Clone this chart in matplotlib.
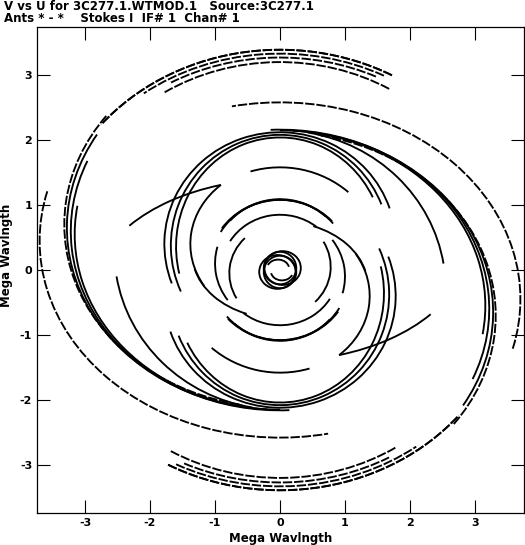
import matplotlib
matplotlib.use('Agg')
import matplotlib.pyplot as plt
from matplotlib.patches import Arc

plt.rcParams['font.family'] = ['DejaVu Sans']
plt.rcParams['font.weight'] = 'bold'
plt.rcParams['axes.unicode_minus'] = False

# uv tracks, one row per track (the conjugate half is drawn by mirroring)
# centre u, centre v, semi-axis u, semi-axis v (Mega wavelengths), start / end angle (deg)
trk_cu = [0.04, 0.0, 0.03,
          0.0, 0.0,
          0.0, 0.0, 0.0, 0.0, 0.0,
          0.0, 0.0,
          0.0, 0.0, 0.0, 0.0, 0.0,
          0.0,
          0.0, 0.0, 0.0, 0.0,
          0.0,
          0.0, 0.0, 0.0, 0.0]
trk_cv = [0.03, 0.03, -0.02,
          0.0, -0.25,
          0.1, 0.08, 0.12, 0.1, 0.05,
          0.03, -0.4,
          0.4, 0.38, 0.36, 0.4, -0.3,
          -0.65,
          -0.6, -0.55, -0.7, -0.45,
          0.24,
          0.24, 0.22, 0.2, 0.2]
trk_a = [0.28, 0.25, 0.17,
         0.9, 1.35,
         1.05, 1.08, 1.02, 1.0, 0.78,
         1.6, 2.9,
         1.78, 1.68, 1.6, 1.38, 2.55,
         3.28,
         3.22, 3.16, 3.32, 3.7,
         3.56,
         3.56, 3.52, 3.46, 3.32]
trk_b = [0.26, 0.25, 0.14,
         0.85, 1.0,
         0.98, 1.0, 0.97, 0.95, 0.75,
         1.55, 1.8,
         1.72, 1.70, 1.68, 1.21, 2.45,
         2.8,
         2.76, 2.7, 2.82, 3.03,
         3.15,
         3.15, 3.11, 3.07, 3.0]
trk_t1 = [0, 0, 190,
          50, 10,
          37, 40, 45, 165, -45,
          48, 118,
          18, 22, 28, 135, 9,
          -27,
          -20, -8, -32, -12,
          58,
          58, 60, 62, 57]
trk_t2 = [360, 360, 340,
          150, 61,
          152, 148, 140, 215, 30,
          107, 155,
          200, 205, 195, 209, 80,
          86,
          93, 90, 78, 104,
          144,
          144, 130, 122, 125]

title_1 = 'V vs U for 3C277.1.WTMOD.1   Source:3C277.1'
title_2 = 'Ants * - *    Stokes I  IF# 1  Chan# 1'

fig = plt.figure(figsize=(5.25, 5.45), dpi=100)
ax = fig.add_axes([37 / 525, 32 / 545, 487 / 525, 486 / 545])

for cu, cv, a, b, t1, t2 in zip(trk_cu, trk_cv, trk_a, trk_b, trk_t1, trk_t2):
    ls = (0, (5, 1.0)) if a > 3.3 else '-'
    for sgn in (1, -1):
        off = 0 if sgn == 1 else 180
        ax.add_patch(Arc((sgn * cu, sgn * cv), 2 * a, 2 * b, theta1=t1 + off, theta2=t2 + off,
                         color='black', lw=1.35, linestyle=ls))

ax.set_xlim(-3.74, 3.755)
ax.set_ylim(-3.74, 3.74)
ax.set_xticks([-3, -2, -1, 0, 1, 2, 3])
ax.set_yticks([-3, -2, -1, 0, 1, 2, 3])
ax.tick_params(direction='in', length=9.5, width=0.8, top=True, right=True,
               labelsize=8, pad=3.5)
for sp in ax.spines.values():
    sp.set_linewidth(0.9)
ax.set_xlabel('Mega Wavlngth', fontsize=8.5, fontweight='bold', va='top')
ax.xaxis.set_label_coords(0.5, -0.039)
ax.set_ylabel('Mega Wavlngth', fontsize=8.5, fontweight='bold', va='bottom')
ax.yaxis.set_label_coords(-0.05, 0.53)

fig.text(4 / 525, 1 - 0 / 545, title_1, fontsize=8.5, fontweight='bold', va='top')
fig.text(4 / 525, 1 - 12.5 / 545, title_2, fontsize=8.5, fontweight='bold', va='top')

fig.savefig('out.png', dpi=100)
